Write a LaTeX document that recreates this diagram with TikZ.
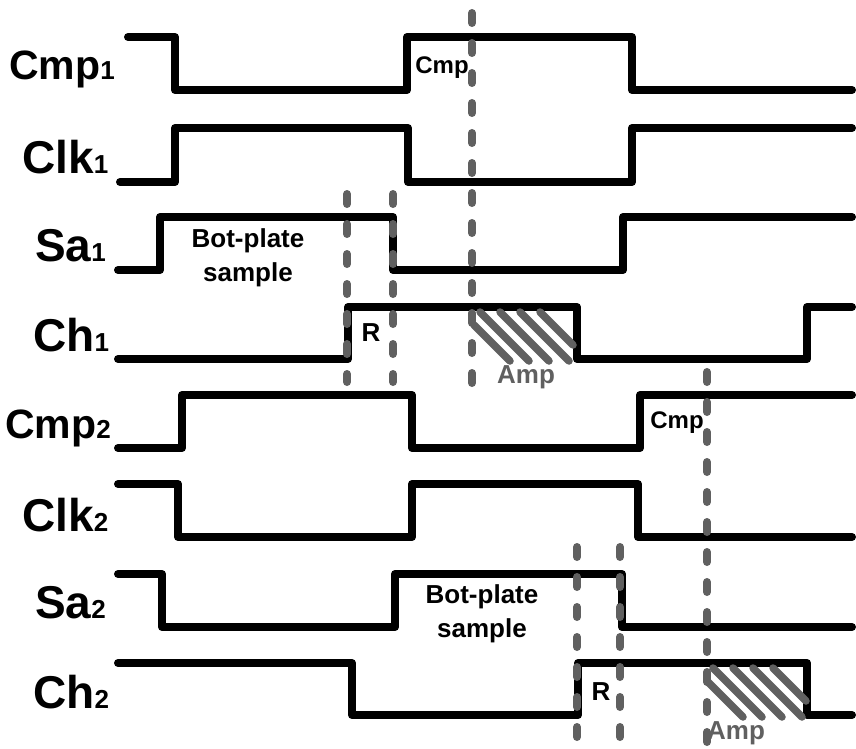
\documentclass[tikz,border=0pt]{standalone}
\usepackage{fontspec}
\setmainfont{Liberation Sans}
\definecolor{guidegray}{RGB}{96,96,96}
\newcommand\lowidx[1]{{\fontsize{26}{26}\selectfont #1}}

\begin{document}
\begin{tikzpicture}[line cap=round,line join=round,x=1pt,y=-1pt,
  sig/.style={line width=8pt,black},
  guide/.style={line width=8pt,guidegray,dash pattern=on 10pt off 20pt},
  hatch/.style={line width=7.5pt,guidegray},
  lbl/.style={anchor=base west,inner sep=0pt,font=\bfseries\fontsize{46}{46}\selectfont},
  cmplbl/.style={lbl,font=\bfseries\fontsize{41}{41}\selectfont},
  note/.style={inner sep=0pt,align=center,font=\bfseries\fontsize{26}{34}\selectfont},
  tag/.style={inner sep=0pt,font=\bfseries\fontsize{24}{24}\selectfont}]
\useasboundingbox (0,0) rectangle (856,749);
% signal names
\node[cmplbl] (cmp1) at (9,80) {Cmp\lowidx{1}};
\node[lbl] (clk1) at (22,173) {Clk\lowidx{1}};
\node[lbl] (sa1) at (35,261) {Sa\lowidx{1}};
\node[lbl] (ch1) at (33,351) {Ch\lowidx{1}};
\node[cmplbl] (cmp2) at (5,438) {Cmp\lowidx{2}};
\node[lbl] (clk2) at (22,531) {Clk\lowidx{2}};
\node[lbl] (sa2) at (35,618) {Sa\lowidx{2}};
\node[lbl] (ch2) at (33,708) {Ch\lowidx{2}};
% waveforms
\draw[sig] (128,37)--(175,37)--(175,90)--(407,90)--(407,37)--(632,37)--(632,90)--(852,90);
\draw[sig] (120,182)--(175,182)--(175,128)--(408,128)--(408,182)--(632,182)--(632,128)--(852,128);
\draw[sig] (118,270)--(160,270)--(160,217)--(393,217)--(393,270)--(623,270)--(623,217)--(852,217);
\draw[sig] (118,359)--(348,359)--(348,307)--(577,307)--(577,359)--(807,359)--(807,307)--(852,307);
\draw[sig] (118,448)--(182,448)--(182,395)--(412,395)--(412,448)--(640,448)--(640,395)--(852,395);
\draw[sig] (118,484)--(178,484)--(178,537)--(412,537)--(412,484)--(638,484)--(638,537)--(852,537);
\draw[sig] (118,574)--(162,574)--(162,627)--(395,627)--(395,574)--(622,574)--(622,627)--(852,627);
\draw[sig] (118,663)--(352,663)--(352,715)--(578,715)--(578,663)--(807,663)--(807,715)--(852,715);
% amplification phase
\foreach \dx/\dy in {0/0,233/356}{
  \begin{scope}[shift={(\dx,\dy)}]
    \draw[hatch] (474,325)--(510,361);
    \draw[hatch] (480,312)--(529,361);
    \draw[hatch] (500,312)--(549,361);
    \draw[hatch] (520,312)--(569,361);
    \draw[hatch] (540,312)--(573,345);
  \end{scope}
}
% phase markers
\draw[guide] (472,13)--(472,385);
\draw[guide] (347,194)--(347,382);
\draw[guide] (393,194)--(393,382);
\draw[guide] (707,372)--(707,742);
\draw[guide] (577,547)--(577,742);
\draw[guide] (620,547)--(620,742);
% phase names
\node[tag] (cmpa) at (442,68) {Cmp};
\node[tag] (cmpb) at (677,423) {Cmp};
\node[note] (bota) at (248,258) {Bot-plate\\sample};
\node[note] (botb) at (482,614) {Bot-plate\\sample};
\node[note] (ra) at (371,333) {R};
\node[note] (rb) at (601,692) {R};
\node[note,text=guidegray] (ampa) at (526,377) {Amp};
\node[note,text=guidegray] (ampb) at (736,733) {Amp};
\end{tikzpicture}
\end{document}
